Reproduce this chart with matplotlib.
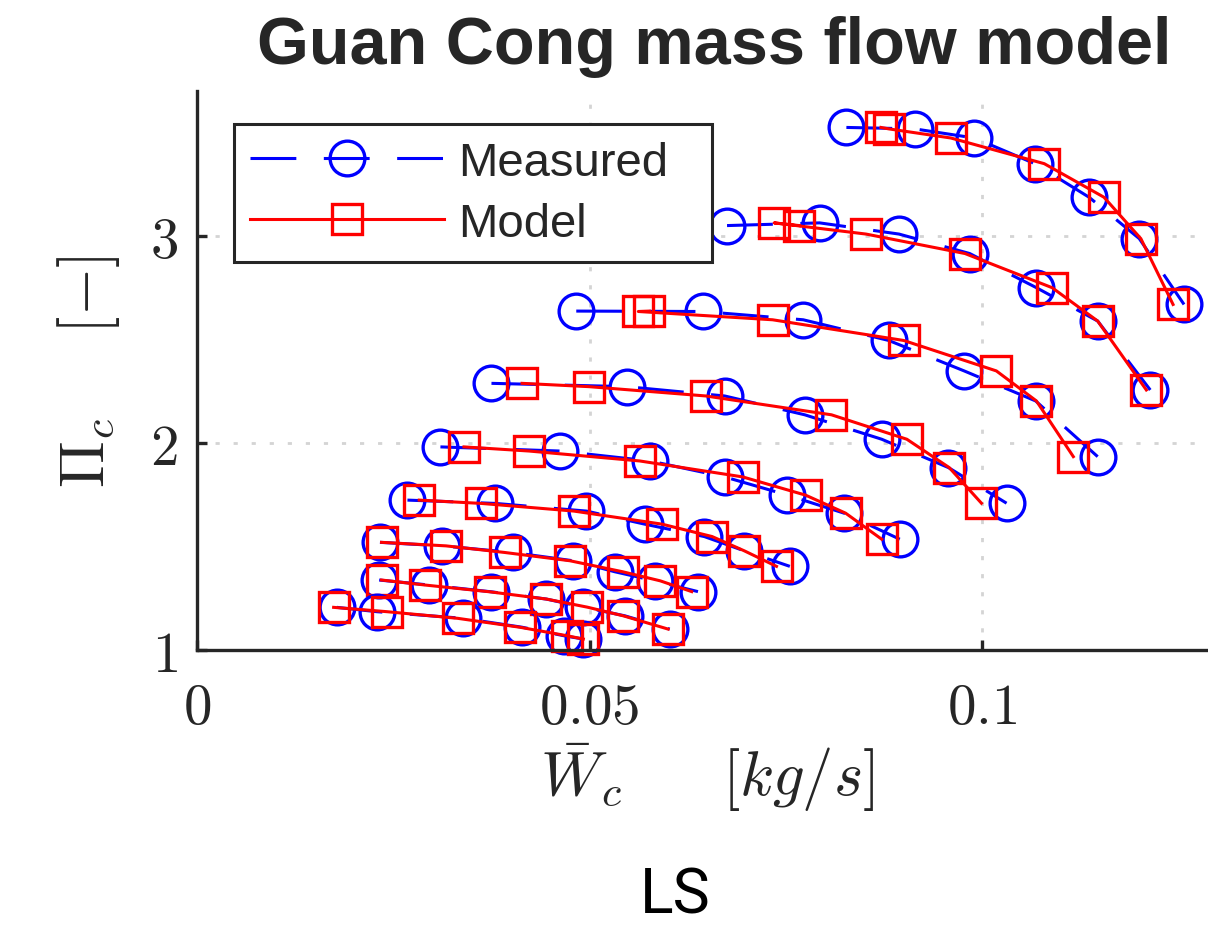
import matplotlib.pyplot as plt
from matplotlib.patches import Rectangle

plt.rcParams['mathtext.fontset'] = 'cm'
plt.rcParams['font.family'] = ['Liberation Sans', 'DejaVu Sans']

# pressure ratio (shared) and corrected mass flow, measured vs model, per speed line
pr_1 = [3.524, 3.517, 3.473, 3.349, 3.187, 2.987, 2.669]
meas_1 = [0.0827, 0.0914, 0.0990, 0.1067, 0.1136, 0.1200, 0.1257]
model_1 = [0.0871, 0.0881, 0.0960, 0.1079, 0.1155, 0.1202, 0.1243]

pr_2 = [3.050, 3.063, 3.009, 2.915, 2.750, 2.589, 2.256]
meas_2 = [0.0675, 0.0793, 0.0894, 0.0984, 0.1069, 0.1147, 0.1214]
model_2 = [0.0767, 0.0735, 0.0852, 0.0978, 0.1089, 0.1147, 0.1209]

pr_3 = [2.637, 2.635, 2.595, 2.495, 2.348, 2.203, 1.934]
meas_3 = [0.0483, 0.0644, 0.0772, 0.0881, 0.0977, 0.1068, 0.1147]
model_3 = [0.0576, 0.0562, 0.0733, 0.0900, 0.1018, 0.1069, 0.1116]

pr_4 = [2.288, 2.272, 2.227, 2.136, 2.018, 1.881, 1.709]
meas_4 = [0.0375, 0.0547, 0.0672, 0.0774, 0.0872, 0.0957, 0.1031]
model_4 = [0.0414, 0.0499, 0.0648, 0.0808, 0.0904, 0.0958, 0.0999]

pr_5 = [1.981, 1.961, 1.913, 1.836, 1.748, 1.661, 1.535]
meas_5 = [0.0310, 0.0462, 0.0577, 0.0672, 0.0752, 0.0824, 0.0895]
model_5 = [0.0340, 0.0423, 0.0564, 0.0695, 0.0775, 0.0826, 0.0872]

pr_6 = [1.724, 1.708, 1.671, 1.608, 1.548, 1.479, 1.404]
meas_6 = [0.0268, 0.0380, 0.0496, 0.0570, 0.0646, 0.0697, 0.0755]
model_6 = [0.0283, 0.0362, 0.0480, 0.0592, 0.0656, 0.0697, 0.0738]

pr_7 = [1.520, 1.503, 1.471, 1.431, 1.378, 1.334, 1.282]
meas_7 = [0.0233, 0.0312, 0.0402, 0.0479, 0.0532, 0.0583, 0.0638]
model_7 = [0.0235, 0.0317, 0.0392, 0.0475, 0.0542, 0.0590, 0.0630]

pr_8 = [1.338, 1.314, 1.281, 1.246, 1.207, 1.165, 1.101]
meas_8 = [0.0232, 0.0295, 0.0375, 0.0445, 0.0492, 0.0545, 0.0602]
model_8 = [0.0235, 0.0290, 0.0373, 0.0445, 0.0497, 0.0543, 0.0600]

pr_9 = [1.206, 1.185, 1.153, 1.110, 1.069, 1.053]
meas_9 = [0.0178, 0.0229, 0.0339, 0.0414, 0.0467, 0.0492]
model_9 = [0.0174, 0.0242, 0.0332, 0.0411, 0.0471, 0.0492]

x_ticks = [0, 0.05, 0.1]
x_ticklabels = ['$0$', '$0.05$', '$0.1$']
y_ticks = [1, 2, 3]
y_ticklabels = ['$1$', '$2$', '$3$']

lines = [(pr_1, meas_1, model_1), (pr_2, meas_2, model_2), (pr_3, meas_3, model_3),
         (pr_4, meas_4, model_4), (pr_5, meas_5, model_5), (pr_6, meas_6, model_6),
         (pr_7, meas_7, model_7), (pr_8, meas_8, model_8), (pr_9, meas_9, model_9)]

dark = '#262626'

fig = plt.figure(figsize=(12.08, 9.29), dpi=100)
ax = fig.add_axes([197 / 1208, 278 / 929, 1020.8 / 1208, 559 / 929])

for i, (pr, wm, wmod) in enumerate(lines):
    ax.plot(wm, pr, color='blue', linestyle='--', dashes=(15, 9), lw=2.2,
            marker='o', ms=25, mfc='none', mew=2.4, clip_on=False,
            label='Measured' if i == 0 else None)
    ax.plot(wmod, pr, color='red', lw=2.2,
            marker='s', ms=21, mfc='none', mew=2.4, clip_on=False,
            label='Model' if i == 0 else None)

ax.set_xlim(0, 0.13)
ax.set_ylim(1, 3.7)
ax.set_xticks(x_ticks)
ax.set_xticklabels(x_ticklabels)
ax.set_yticks(y_ticks)
ax.set_yticklabels(y_ticklabels)

ax.spines['top'].set_visible(False)
ax.spines['right'].set_visible(False)
for s in ['left', 'bottom']:
    ax.spines[s].set_linewidth(2.4)
    ax.spines[s].set_color(dark)

ax.tick_params(direction='in', length=7, width=2.4, colors=dark, labelsize=41)
ax.tick_params(axis='x', pad=22)
ax.tick_params(axis='y', pad=14)
ax.grid(True, color='#d4d4d4', linestyle=(0, (1.5, 5)), lw=2)
ax.set_axisbelow(True)

ax.set_xlabel(r'$\bar{W}_c \quad\enspace\; [kg/s]$', fontsize=45, color=dark, labelpad=4)
ax.set_ylabel(r'$\Pi_c \quad\enspace [-]$', fontsize=45, color=dark, labelpad=20)
ax.set_title('Guan Cong mass flow model', fontsize=48, fontweight='bold',
             color=dark, pad=20, x=0.507)

leg = ax.legend(loc='upper left', bbox_to_anchor=(0.036, 0.941), borderaxespad=0,
                fontsize=34, handlelength=4.1, handletextpad=0.3, labelspacing=0.37,
                borderpad=0.35, frameon=False, numpoints=1, labelcolor=dark)
# MATLAB-style legend box, wider than the entries
ax.add_patch(Rectangle((0.0362, 0.694), 0.4683, 0.247, transform=ax.transAxes,
                       facecolor='white', edgecolor=dark, lw=2.2, zorder=4.9,
                       clip_on=False))
leg.set_zorder(5)

fig.text(675 / 1208, 1 - 897 / 929, 'LS', ha='center', va='center', fontsize=45,
         family=['Liberation Sans Narrow', 'Roboto', 'Liberation Sans'], color='black')

fig.savefig('out.png', dpi=100)
